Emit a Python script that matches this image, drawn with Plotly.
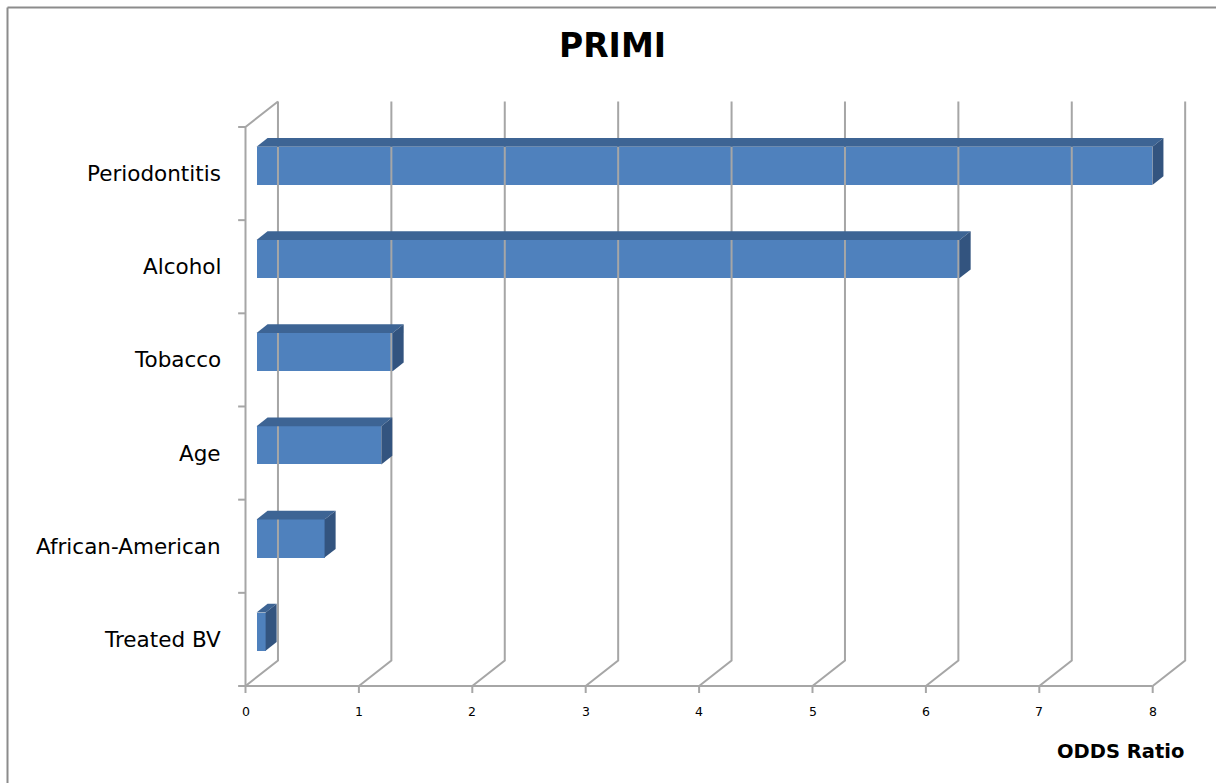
import plotly.graph_objects as go

# ---- data ----
categories = ["Treated BV", "African-American", "Age", "Tobacco", "Alcohol", "Periodontitis"]
odds_ratio = [0.08, 0.6, 1.1, 1.2, 6.2, 7.9]
x_ticks = [0, 1, 2, 3, 4, 5, 6, 7, 8]
title_text = "PRIMI"
x_title = "ODDS Ratio"

# ---- 3D oblique projection parameters (in data units) ----
DX = 0.2863   # depth shift along x for full depth
DY = 0.2742   # depth shift along y for full depth
F0, F1 = 0.34, 0.68   # bar front/back depth fractions
BAR_H = 0.41

FRONT = "#4F81BD"
TOP = "#3D6494"
SIDE = "#33547F"
GRID = "#A6A6A6"
FONT = "DejaVu Sans"

n = len(categories)
fig = go.Figure()

# grid / walls
gx, gy = [], []
for k in x_ticks:
    gx += [k, k + DX, k + DX, None]
    gy += [0, DY, n + DY, None]
# front left axis + top-left diagonal
gx += [0, 0, DX, None]
gy += [0, n, n + DY, None]
# front bottom axis
gx += [0, x_ticks[-1], None]
gy += [0, 0, None]
# tick marks
for k in x_ticks:
    gx += [k, k, None]
    gy += [0, -0.075, None]
for j in range(n + 1):
    gx += [0, -0.065, None]
    gy += [j, j, None]
fig.add_trace(go.Scatter(x=gx, y=gy, mode="lines", line=dict(color=GRID, width=2),
                         hoverinfo="skip", showlegend=False))

# bars: front faces via Bar
yc = [i + 0.49 + F0 * DY for i in range(n)]
fig.add_trace(go.Bar(x=odds_ratio, y=yc, base=F0 * DX, orientation="h", width=BAR_H,
                     marker=dict(color=FRONT, line=dict(width=0)), showlegend=False))

# top and side faces
for i, v in enumerate(odds_ratio):
    yb = i + 0.49 - BAR_H / 2
    yt = i + 0.49 + BAR_H / 2
    # top face
    fig.add_trace(go.Scatter(
        x=[F0 * DX, v + F0 * DX, v + F1 * DX, F1 * DX, F0 * DX],
        y=[yt + F0 * DY, yt + F0 * DY, yt + F1 * DY, yt + F1 * DY, yt + F0 * DY],
        fill="toself", fillcolor=TOP, mode="lines", line=dict(width=0, color=TOP),
        hoverinfo="skip", showlegend=False))
    # side face
    fig.add_trace(go.Scatter(
        x=[v + F0 * DX, v + F1 * DX, v + F1 * DX, v + F0 * DX, v + F0 * DX],
        y=[yb + F0 * DY, yb + F1 * DY, yt + F1 * DY, yt + F0 * DY, yb + F0 * DY],
        fill="toself", fillcolor=SIDE, mode="lines", line=dict(width=0, color=SIDE),
        hoverinfo="skip", showlegend=False))

annotations = []
for i, c in enumerate(categories):
    annotations.append(dict(x=-0.2, y=i + 0.5, text=c, xref="x", yref="y", xanchor="right",
                            yanchor="middle", showarrow=False,
                            font=dict(family=FONT, size=21.5, color="#000000")))
for k in x_ticks:
    annotations.append(dict(x=k, y=-0.275, text=str(k), xref="x", yref="y", xanchor="center",
                            yanchor="middle", showarrow=False,
                            font=dict(family=FONT, size=12.5, color="#000000")))
annotations.append(dict(x=612 / 1216, y=1 - 46 / 783, xref="paper", yref="paper", text="<b>" + title_text + "</b>",
                        showarrow=False, xanchor="center", yanchor="middle",
                        font=dict(family=FONT, size=33, color="#000000")))
annotations.append(dict(x=1120 / 1216, y=1 - 751 / 783, xref="paper", yref="paper", text="<b>" + x_title + "</b>",
                        showarrow=False, xanchor="center", yanchor="middle",
                        font=dict(family=FONT, size=19.5, color="#000000")))

fig.update_layout(
    width=1216, height=783,
    margin=dict(l=0, r=0, t=0, b=0),
    paper_bgcolor="white", plot_bgcolor="white",
    xaxis=dict(range=[-245.5 / 113.4, (1216 - 245.5) / 113.4], visible=False, fixedrange=True),
    yaxis=dict(range=[-97 / 93.17, 686 / 93.17], visible=False, fixedrange=True),
    annotations=annotations,
    shapes=[
        dict(type="line", xref="paper", yref="paper", x0=7.5 / 1216, x1=1.0,
             y0=1 - 7.5 / 783, y1=1 - 7.5 / 783, line=dict(color="#8C8C8C", width=2)),
        dict(type="line", xref="paper", yref="paper", x0=7.5 / 1216, x1=7.5 / 1216,
             y0=1 - 7.5 / 783, y1=0.0, line=dict(color="#8C8C8C", width=2)),
    ],
    bargap=0,
)

fig.write_html("out.html")
